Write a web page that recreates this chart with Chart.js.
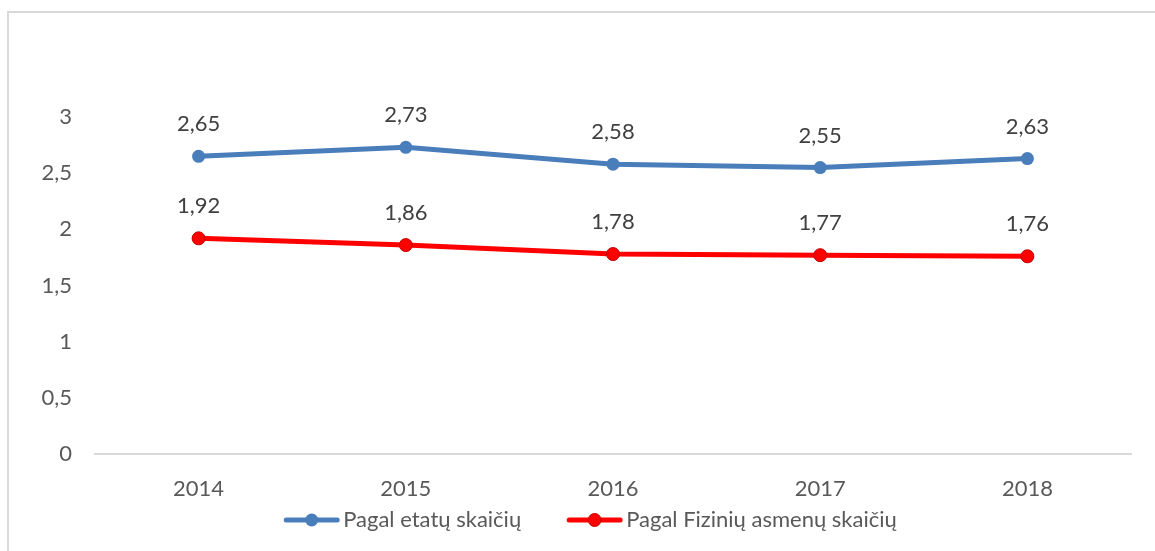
<!DOCTYPE html>
<html lang="lt">
<head>
    <meta charset="UTF-8">
    <title>Pagal etatų ir fizinių asmenų skaičių</title>
    <script src="https://cdn.jsdelivr.net/npm/chart.js"></script>
    <style>
        html, body {
            margin: 0;
            padding: 0;
            background: #fff;
            overflow: hidden;
        }
        .remelis {
            position: absolute;
            left: 7px;
            top: 11px;
            width: 1300px;
            height: 700px;
            border: 2px solid #d9d9d9;
        }
        .chart-container {
            position: absolute;
            left: 0;
            top: 0;
            width: 1155px;
            height: 551px;
        }
    </style>
</head>
<body>
    <div class="remelis"></div>
    <div class="chart-container">
        <canvas id="grafikas"></canvas>
    </div>

    <script>
        const metai = ['2014', '2015', '2016', '2017', '2018'];
        const pagalEtatus = [2.65, 2.73, 2.58, 2.55, 2.63];
        const pagalFizinius = [1.92, 1.86, 1.78, 1.77, 1.76];
        const yTicks = [0, 0.5, 1, 1.5, 2, 2.5, 3];

        const MELYNA = '#4a7ebb';
        const RAUDONA = '#ff0000';
        const SRIFTAS = 'Lato';
        const DYDIS = 22;

        // kablelis vietoj taško
        const kablelis = (v, d) => (d === undefined ? String(v) : v.toFixed(d)).replace('.', ',');

        // reikšmės virš taškų
        const etiketes = {
            id: 'etiketes',
            afterDatasetsDraw(chart) {
                const ctx = chart.ctx;
                ctx.save();
                ctx.font = DYDIS + 'px ' + SRIFTAS;
                ctx.fillStyle = '#404040';
                ctx.textAlign = 'center';
                ctx.textBaseline = 'middle';
                chart.data.datasets.forEach((ds, i) => {
                    chart.getDatasetMeta(i).data.forEach((pt, j) => {
                        ctx.fillText(kablelis(ds.data[j], 2), pt.x, pt.y - 32);
                    });
                });
                ctx.restore();
            }
        };

        // legenda apačioje: linija su tašku + tekstas
        const legenda = {
            id: 'legenda',
            afterDraw(chart) {
                const ctx = chart.ctx;
                const ca = chart.chartArea;
                ctx.save();
                ctx.font = DYDIS + 'px ' + SRIFTAS;
                ctx.textBaseline = 'middle';
                ctx.textAlign = 'left';
                const zymW = 57, tarpas = 3, tarpTarp = 45;
                const dsai = chart.data.datasets;
                let viso = 0;
                dsai.forEach((ds, i) => {
                    viso += zymW + tarpas + ctx.measureText(ds.label).width;
                    if (i < dsai.length - 1) viso += tarpTarp;
                });
                let x = (ca.left + ca.right) / 2 - 23 - viso / 2;
                const y = ca.bottom + 66;
                dsai.forEach(ds => {
                    ctx.strokeStyle = ds.borderColor;
                    ctx.lineWidth = 5;
                    ctx.lineCap = 'round';
                    ctx.beginPath();
                    ctx.moveTo(x + 3, y);
                    ctx.lineTo(x + zymW - 3, y);
                    ctx.stroke();
                    ctx.beginPath();
                    ctx.arc(x + zymW / 2, y, 6.5, 0, Math.PI * 2);
                    ctx.fillStyle = ds.backgroundColor;
                    ctx.fill();
                    if (ds.pointBorderWidth) {
                        ctx.lineWidth = ds.pointBorderWidth;
                        ctx.strokeStyle = ds.pointBorderColor;
                        ctx.stroke();
                    }
                    x += zymW + tarpas;
                    ctx.fillStyle = '#595959';
                    ctx.fillText(ds.label, x, y);
                    x += ctx.measureText(ds.label).width + tarpTarp;
                });
                ctx.restore();
            }
        };

        new Chart(document.getElementById('grafikas'), {
            type: 'line',
            data: {
                labels: metai,
                datasets: [
                    {
                        label: 'Pagal etatų skaičių',
                        data: pagalEtatus,
                        borderColor: MELYNA,
                        backgroundColor: MELYNA,
                        borderWidth: 5,
                        pointRadius: 6.5,
                        pointBorderWidth: 0,
                        tension: 0,
                        fill: false
                    },
                    {
                        label: 'Pagal Fizinių asmenų skaičių',
                        data: pagalFizinius,
                        borderColor: RAUDONA,
                        backgroundColor: RAUDONA,
                        pointBorderColor: '#c00000',
                        borderWidth: 5,
                        pointRadius: 6.5,
                        pointBorderWidth: 1,
                        tension: 0,
                        fill: false
                    }
                ]
            },
            options: {
                responsive: true,
                maintainAspectRatio: false,
                animation: false,
                layout: {
                    padding: { left: 0, right: 24, top: 117, bottom: 0 }
                },
                plugins: {
                    tooltip: { enabled: false },
                    legend: { display: false }
                },
                scales: {
                    x: {
                        offset: true,
                        grid: { display: false, drawTicks: false },
                        border: { display: true, color: '#d9d9d9', width: 2 },
                        ticks: {
                            color: '#595959',
                            font: { family: SRIFTAS, size: DYDIS },
                            padding: 22
                        },
                        afterFit(scale) { scale.height = 97; }
                    },
                    y: {
                        min: 0,
                        max: 3,
                        afterBuildTicks(scale) { scale.ticks = yTicks.map(v => ({ value: v })); },
                        grid: { display: false, drawTicks: false },
                        border: { display: false },
                        ticks: {
                            color: '#595959',
                            font: { family: SRIFTAS, size: DYDIS },
                            padding: 23,
                            callback: v => kablelis(v)
                        },
                        afterFit(scale) { scale.width = 95; }
                    }
                }
            },
            plugins: [etiketes, legenda]
        });
    </script>
</body>
</html>
